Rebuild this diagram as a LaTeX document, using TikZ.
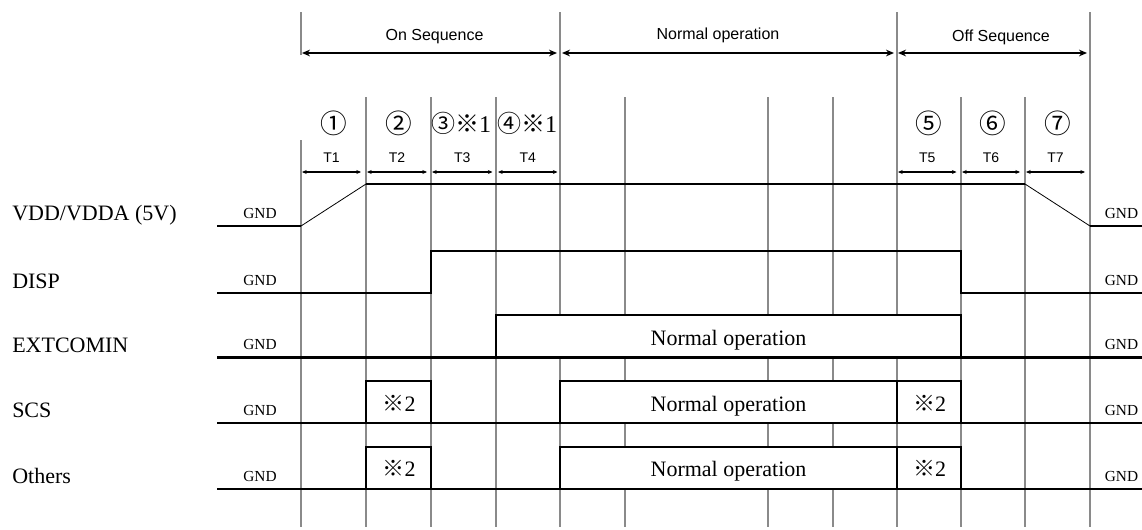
\documentclass[tikz,border=0pt]{standalone}
\usepackage{fontspec}
\setmainfont{Liberation Serif}
\newfontfamily\arialf{Liberation Sans}
\newfontfamily\cjk{Noto Sans CJK JP}
\usetikzlibrary{arrows.meta}
\definecolor{gridgray}{HTML}{8A8A8A}
\begin{document}
\begin{tikzpicture}[x=0.75pt,y=-0.75pt,
  gridline/.style={draw=gridgray, line width=2pt},
  sig/.style={draw=black, line width=1.6pt},
  ramp/.style={draw=black, line width=0.6pt},
  sigbox/.style={draw=black, line width=1.6pt, fill=white},
  span/.style={line width=1.1pt, {Stealth[length=6pt,width=5pt]}-{Stealth[length=6pt,width=5pt]}},
  tspan/.style={line width=0.8pt, {Stealth[length=3.5pt,width=3pt]}-{Stealth[length=3.5pt,width=3pt]}},
  rowlbl/.style={font=\fontsize{16.5}{18}\selectfont, anchor=base west, inner sep=0pt},
  gnd/.style={font=\fontsize{11.5}{13}\selectfont, anchor=base, inner sep=0pt},
  hdr/.style={font=\arialf\fontsize{12}{14}\selectfont, inner sep=0pt},
  tlbl/.style={font=\arialf\fontsize{10.5}{12}\selectfont, inner sep=0pt},
  circ/.style={font=\fontsize{20}{22}\selectfont, inner sep=0pt},
  circnote/.style={font=\fontsize{18}{20}\selectfont, inner sep=0pt},
  boxtxt/.style={font=\fontsize{16.5}{18}\selectfont, anchor=base, inner sep=0pt}
]
\useasboundingbox (0,0) rectangle (1142,529);

% grid lines
\draw[gridline] (301,12) -- (301,55);
\draw[gridline] (301,140) -- (301,527);
\foreach \x in {560,897,1090} \draw[gridline] (\x,12) -- (\x,527);
\foreach \x in {366,431,496,625,768,833,961,1025} \draw[gridline] (\x,97) -- (\x,527);

% top spans
\coordinate (onL) at (302,53); \coordinate (onR) at (557,53);
\coordinate (noL) at (562,53); \coordinate (noR) at (894,53);
\coordinate (ofL) at (898,53); \coordinate (ofR) at (1087,53);
\draw[span] (onL) -- (onR);
\draw[span] (noL) -- (noR);
\draw[span] (ofL) -- (ofR);
\node[hdr] (hOn) at (434.5,37) {On Sequence};
\node[hdr] (hNo) at (718,35) {Normal operation};
\node[hdr] (hOf) at (1001,37) {Off Sequence};

% T spans
\foreach \a/\b/\n/\t in {302/361/1/T1, 367/427/2/T2, 432/492.5/3/T3, 498/557.5/4/T4, 898/956.5/5/T5, 962/1020/6/T6, 1026/1085/7/T7}{
  \coordinate (ta\n) at (\a,172);
  \coordinate (tb\n) at (\b,172);
  \draw[tspan] (ta\n) -- (tb\n);
  \node[tlbl] (tl\n) at ({(\a+\b)/2},158) {\t};
}

% circled numbers
\node[circ] (c1) at (334,123) {\cjk ①};
\node[circ] (c2) at (398.5,123) {\cjk ②};
\node[circnote] (c3) at (461,123) {{\cjk ③※}1};
\node[circnote] (c4) at (527,123) {{\cjk ④※}1};
\node[circ] (c5) at (929,123) {\cjk ⑤};
\node[circ] (c6) at (993,123) {\cjk ⑥};
\node[circ] (c7) at (1057.5,123) {\cjk ⑦};

% row labels
\node[rowlbl] (lVDD) at (12,220.5) {VDD/VDDA (5V)};
\node[rowlbl] (lDISP) at (12,288) {DISP};
\node[rowlbl] (lEXT) at (12,352.5) {EXTCOMIN};
\node[rowlbl] (lSCS) at (12,417.5) {SCS};
\node[rowlbl] (lOTH) at (12,483) {Others};

% GND labels
\foreach \y/\n in {218/1, 285.3/2, 349.7/3, 415.3/4, 481/5}{
  \node[gnd] (gl\n) at (260,\y) {GND};
  \node[gnd] (gr\n) at (1121.5,\y) {GND};
}

% VDD
\draw[sig] (217,226) -- (301,226);
\draw[ramp] (301,226) -- (366,184);
\draw[sig] (366,184) -- (1025,184);
\draw[ramp] (1025,184) -- (1090,226);
\draw[sig] (1090,226) -- (1142,226);

% DISP
\draw[sig] (217,293.3) -- (431,293.3) -- (431,251) -- (961,251) -- (961,293.3) -- (1142,293.3);

% EXTCOMIN
\draw[sigbox] (496,315) rectangle (961,357.5);
\draw[sig] (217,357.5) -- (1142,357.5);
\node[boxtxt] (tE) at (728.5,345) {Normal operation};

% SCS
\draw[sigbox] (366,381) rectangle (431,423.3);
\draw[sigbox] (560,381) rectangle (897,423.3);
\draw[sigbox] (897,381) rectangle (961,423.3);
\draw[sig] (217,423.3) -- (1142,423.3);
\node[boxtxt] (tS) at (728.5,411) {Normal operation};
\node[boxtxt] (nS1) at (399,411) {{\cjk ※}2};
\node[boxtxt] (nS2) at (929.5,411) {{\cjk ※}2};

% Others
\draw[sigbox] (366,447) rectangle (431,489);
\draw[sigbox] (560,447) rectangle (897,489);
\draw[sigbox] (897,447) rectangle (961,489);
\draw[sig] (217,489) -- (1142,489);
\node[boxtxt] (tO) at (728.5,476.7) {Normal operation};
\node[boxtxt] (nO1) at (399,476.7) {{\cjk ※}2};
\node[boxtxt] (nO2) at (929.5,476.7) {{\cjk ※}2};
\end{tikzpicture}
\end{document}
